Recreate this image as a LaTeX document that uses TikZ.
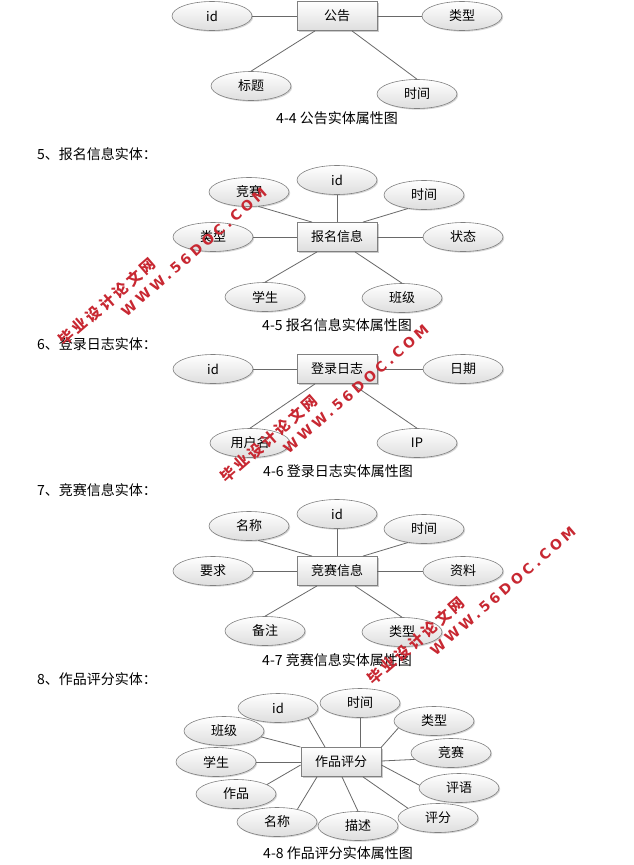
\documentclass[tikz,border=0pt]{standalone}
\usepackage{fontspec}
\setmainfont{Liberation Sans}
\newfontfamily\cjk{Noto Sans CJK SC}
\newfontfamily\wmlat[LetterSpace=25]{DejaVu Sans}
\newfontfamily\wmcjk[LetterSpace=20]{Noto Sans CJK SC}
\usetikzlibrary{shapes.geometric,shadows,calc}
\definecolor{bgray}{RGB}{128,128,128}
\definecolor{lgray}{RGB}{105,105,105}
\definecolor{wmred}{RGB}{200,40,50}
\newcommand\lblfont{\cjk\fontsize{13}{13}\selectfont}
\newcommand\capfont{\cjk\fontsize{14}{14}\selectfont}
\begin{document}
\begin{tikzpicture}[x=1pt,y=-1pt,
  ent/.style={rectangle, draw=bgray, line width=0.8pt, top color=white, bottom color=black!13,
    minimum width=80pt, minimum height=29pt, inner sep=0pt, font=\lblfont,
    drop shadow={shadow xshift=1.5pt, shadow yshift=-1.5pt, fill=black!40, opacity=0.5}},
  att/.style={ellipse, draw=bgray, line width=0.6pt, top color=white, bottom color=black!13,
    minimum width=80pt, minimum height=29pt, inner sep=0pt, font=\lblfont,
    drop shadow={shadow xshift=1.2pt, shadow yshift=-1.2pt, fill=black!35, opacity=0.45}},
  conn/.style={draw=lgray, line width=0.8pt},
  captxt/.style={font=\capfont, inner sep=0pt},
  headtxt/.style={font=\capfont, anchor=west, inner sep=0pt},
  wmA/.style={text=wmred, rotate=41, inner sep=0pt, font=\wmlat\bfseries\fontsize{14}{14}\selectfont},
  wmB/.style={text=wmred, rotate=41, inner sep=0pt, font=\wmcjk\bfseries\fontsize{15}{15}\selectfont}
]
\fill[white] (0,0) rectangle (634,865);
\useasboundingbox (0,0) rectangle (634,865);

% ---------- 4-4 公告 ----------
\node[ent] (g1) at (337,16) {公告};
\node[att] (g1id) at (212,16) {id};
\node[att] (g1lx) at (462,16) {类型};
\node[att] (g1bt) at (251,86) {标题};
\node[att] (g1sj) at (417,94) {时间};
\draw[conn] (g1id) -- (g1);
\draw[conn] (g1) -- (g1lx);
\draw[conn] ($(g1.south)+(-22,0)$) -- (g1bt.north);
\draw[conn] ($(g1.south)+(15,0)$) -- (g1sj.north);
\node[captxt] (c1) at (337,118) {4-4 公告实体属性图};

% ---------- 5 报名信息 ----------
\node[headtxt] (h5) at (37,154) {5、报名信息实体：};
\node[ent] (r2) at (337,237) {报名信息};
\node[att] (r2js) at (249,192) {竞赛};
\node[att] (r2id) at (337,180) {id};
\node[att] (r2sj) at (424,195) {时间};
\node[att] (r2lx) at (213,237) {类型};
\node[att] (r2zt) at (463,237) {状态};
\node[att] (r2xs) at (265,297) {学生};
\node[att] (r2bj) at (402,298) {班级};
\draw[conn] ($(r2.north)+(-25,0)$) -- (r2js.-57);
\draw[conn] (r2.north) -- (r2id.south);
\draw[conn] ($(r2.north)+(26,0)$) -- (r2sj.220);
\draw[conn] (r2lx) -- (r2);
\draw[conn] (r2) -- (r2zt);
\draw[conn] ($(r2.south)+(-20,0)$) -- (r2xs.north);
\draw[conn] ($(r2.south)+(18,0)$) -- (r2bj.north);
\node[captxt] (c2) at (337,325) {4-5 报名信息实体属性图};

% ---------- 6 登录日志 ----------
\node[headtxt] (h6) at (37,344) {6、登录日志实体：};
\node[ent] (r3) at (337,369) {登录日志};
\node[att] (r3id) at (213,369) {id};
\node[att] (r3rq) at (463,369) {日期};
\node[att] (r3yh) at (250,443) {用户名};
\node[att] (r3ip) at (417,443) {IP};
\draw[conn] (r3id) -- (r3);
\draw[conn] (r3) -- (r3rq);
\draw[conn] ($(r3.south)+(-22,0)$) -- (r3yh.north);
\draw[conn] ($(r3.south)+(15,0)$) -- (r3ip.north);
\node[captxt] (c3) at (338,471) {4-6 登录日志实体属性图};

% ---------- 7 竞赛信息 ----------
\node[headtxt] (h7) at (37,490) {7、竞赛信息实体：};
\node[ent] (r4) at (337,571) {竞赛信息};
\node[att] (r4mc) at (249,526) {名称};
\node[att] (r4id) at (337,514) {id};
\node[att] (r4sj) at (424,529) {时间};
\node[att] (r4yq) at (213,571) {要求};
\node[att] (r4zl) at (463,571) {资料};
\node[att] (r4bz) at (265,631) {备注};
\node[att] (r4lx) at (402,632) {类型};
\draw[conn] ($(r4.north)+(-25,0)$) -- (r4mc.-57);
\draw[conn] (r4.north) -- (r4id.south);
\draw[conn] ($(r4.north)+(26,0)$) -- (r4sj.220);
\draw[conn] (r4yq) -- (r4);
\draw[conn] (r4) -- (r4zl);
\draw[conn] ($(r4.south)+(-20,0)$) -- (r4bz.north);
\draw[conn] ($(r4.south)+(18,0)$) -- (r4lx.north);
\node[captxt] (c4) at (337,660) {4-7 竞赛信息实体属性图};

% ---------- 8 作品评分 ----------
\node[headtxt] (h8) at (37,679) {8、作品评分实体：};
\node[ent] (r5) at (341,762) {作品评分};
\node[att] (p1) at (278,708) {id};
\node[att] (p2) at (360,703) {时间};
\node[att] (p3) at (434,721) {类型};
\node[att] (p4) at (224,731) {班级};
\node[att] (p5) at (451,753) {竞赛};
\node[att] (p6) at (216,762) {学生};
\node[att] (p7) at (459,788) {评语};
\node[att] (p8) at (236,794) {作品};
\node[att] (p9) at (438,818) {评分};
\node[att] (p10) at (277,822) {名称};
\node[att] (p11) at (358,826) {描述};
\draw[conn] ($(r5.north)+(-16,0)$) -- (p1.-18);
\draw[conn] ($(r5.north)+(19,0)$) -- (p2.south);
\draw[conn] (r5.north east) -- (p3.191);
\draw[conn] (r5.north west) -- (p4.-9);
\draw[conn] ($(r5.east)+(0,-1)$) -- (p5.190);
\draw[conn] (r5.west) -- (p6.east);
\draw[conn] ($(r5.east)+(0,3)$) -- (p7.176);
\draw[conn] ($(r5.west)+(0,3)$) -- (p8.17);
\draw[conn] ($(r5.south)+(22,0)$) -- (p9.162);
\draw[conn] ($(r5.south)+(-24,0)$) -- (p10.32);
\draw[conn] ($(r5.south)+(1,0)$) -- (p11.north);
\node[captxt] (c5) at (338,853) {4-8 作品评分实体属性图};

% ---------- watermarks ----------
\node[wmB] (w1b) at (107,302) {毕业设计论文网};
\node[wmA] (w1a) at (194,252) {WWW.56DOC.COM};
\node[wmB] (w2b) at (269,439) {毕业设计论文网};
\node[wmA] (w2a) at (356,389) {WWW.56DOC.COM};
\node[wmB] (w3b) at (416,641) {毕业设计论文网};
\node[wmA] (w3a) at (503,591) {WWW.56DOC.COM};
\end{tikzpicture}
\end{document}
